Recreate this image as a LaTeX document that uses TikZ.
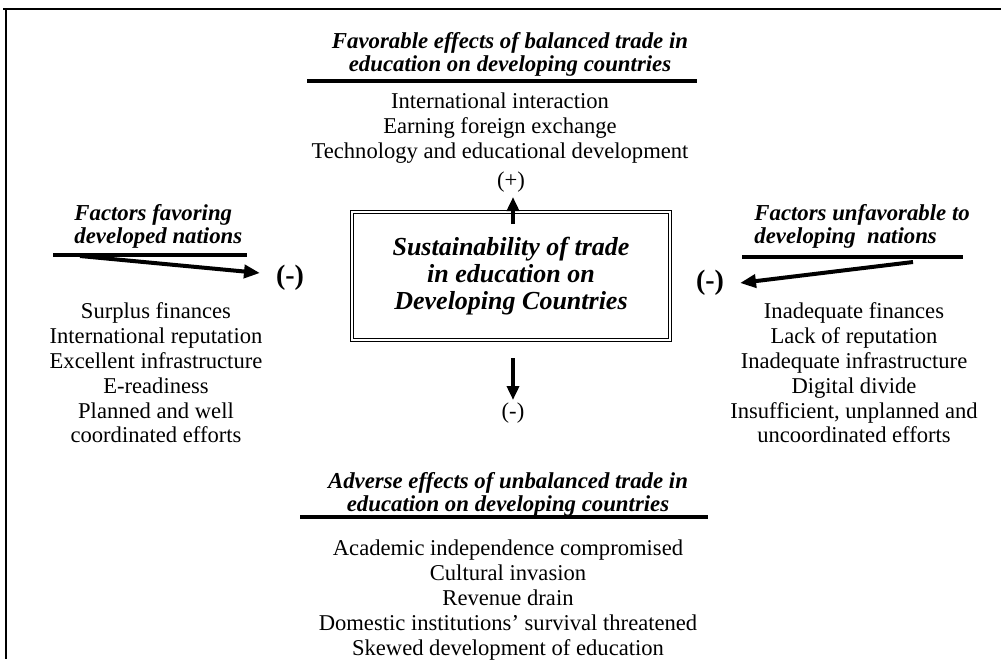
\documentclass[tikz,border=0pt]{standalone}
\usepackage{fontspec}
\setmainfont{Liberation Serif}
\usetikzlibrary{arrows.meta,positioning}
\tikzset{
  headtext/.style={font=\fontsize{11.4}{11.6}\selectfont\bfseries\itshape,
                   align=left,inner sep=0pt},
  listtext/.style={font=\fontsize{11.3}{12.4}\selectfont,align=center,inner sep=0pt},
  signtext/.style={font=\fontsize{11.3}{12}\selectfont,inner sep=0pt},
  bigsign/.style={font=\fontsize{14}{14}\selectfont\bfseries,inner sep=0pt},
  headrule/.style={line width=2.3pt},
  factorarrow/.style={-{Triangle[length=8pt,width=6.5pt]},line width=2pt},
  signarrow/.style={-{Triangle[length=7pt,width=6pt]},line width=1.8pt},
  corebox/.style={draw,double,line width=0.7pt,double distance=1pt,
                  minimum width=159pt,minimum height=64pt,align=center,
                  font=\fontsize{13}{13.6}\selectfont\bfseries\itshape},
}

\begin{document}
\begin{tikzpicture}[x=0.5pt,y=-0.5pt]
  \useasboundingbox (0,0) rectangle (1001,659);
  % page frame, top and left edge only
  \draw[line width=1pt] (3,9) -- (1001,9);
  \draw[line width=1pt] (6,9) -- (6,659);

  % centre box
  \node[corebox] (core) at (511,276)
    {Sustainability of trade\\ in education on\\ Developing Countries};

  % favourable effects, above
  \node[headtext,align=center] (tophead) at (510,54)
    {Favorable effects of balanced trade in\\ education on developing countries};
  \coordinate (trulel) at (307,81);
  \coordinate (truler) at (697,81);
  \draw[headrule] (trulel) -- (truler);
  \node[listtext] (toplist) at (500,128)
    {International interaction\\ Earning foreign exchange\\
     Technology and educational development};
  \node[signtext] (plus) at (511,182) {(+)};
  \coordinate (uptail) at (513,224);
  \coordinate (uptip) at (513,197);
  \draw[signarrow] (uptail) -- (uptip);

  % adverse effects, below
  \coordinate (dntail) at (513,358);
  \coordinate (dntip) at (513,400);
  \draw[signarrow] (dntail) -- (dntip);
  \node[signtext] (minusdn) at (513,413) {(-)};
  \node[headtext,align=center] (bothead) at (508,494)
    {Adverse effects of unbalanced trade in\\ education on developing countries};
  \coordinate (brulel) at (300,517);
  \coordinate (bruler) at (708,517);
  \draw[headrule] (brulel) -- (bruler);
  \node[listtext] (botlist) at (508,600)
    {Academic independence compromised\\ Cultural invasion\\ Revenue drain\\
     Domestic institutions' survival threatened\\ Skewed development of education};

  % factors favoring developed nations, left
  \node[headtext,anchor=west] (lefthead) at (74,226) {Factors favoring\\ developed nations};
  \coordinate (lrulel) at (53,255);
  \coordinate (lruler) at (247,255);
  \draw[headrule] (lrulel) -- (lruler);
  \coordinate (ltail) at (80,256);
  \coordinate (ltip) at (260,273);
  \draw[factorarrow] (ltail) -- (ltip);
  \node[bigsign] (minusl) at (290,278) {(-)};
  \node[listtext] (leftlist) at (156,373)
    {Surplus finances\\ International reputation\\ Excellent infrastructure\\
     E-readiness\\ Planned and well\\ coordinated efforts};

  % factors unfavorable to developing nations, right
  \node[headtext,anchor=west] (righthead) at (754,226)
    {Factors unfavorable to\\ developing\ \ nations};
  \coordinate (rrulel) at (742,257);
  \coordinate (rruler) at (963,257);
  \draw[headrule] (rrulel) -- (rruler);
  \coordinate (rtail) at (913,262);
  \coordinate (rtip) at (740,283);
  \draw[factorarrow] (rtail) -- (rtip);
  \node[bigsign] (minusr) at (710,283) {(-)};
  \node[listtext] (rightlist) at (854,373)
    {Inadequate finances\\ Lack of reputation\\ Inadequate infrastructure\\
     Digital divide\\ Insufficient, unplanned and\\ uncoordinated efforts};
\end{tikzpicture}
\end{document}
